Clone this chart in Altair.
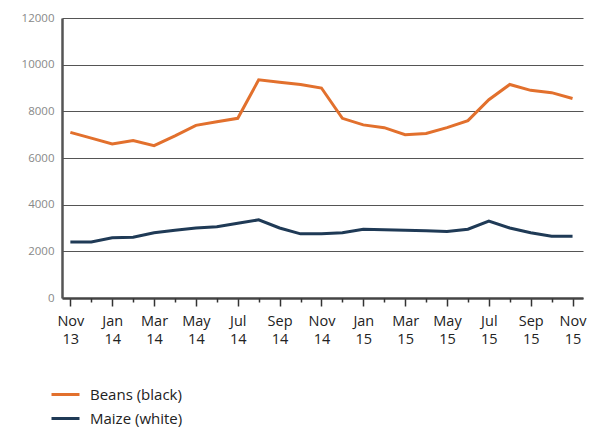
import altair as alt
import pandas as pd

months = list(range(25))
month_labels = ["Nov\n13", "", "Jan\n14", "", "Mar\n14", "", "May\n14", "", "Jul\n14", "",
                "Sep\n14", "", "Nov\n14", "", "Jan\n15", "", "Mar\n15", "", "May\n15", "",
                "Jul\n15", "", "Sep\n15", "", "Nov\n15"]
beans = [7100, 6850, 6600, 6750, 6530, 6950, 7400, 7550, 7700, 9350, 9250, 9150, 9000,
         7700, 7420, 7300, 7000, 7050, 7300, 7600, 8500, 9150, 8900, 8800, 8550]
maize = [2400, 2400, 2580, 2600, 2800, 2900, 3000, 3050, 3200, 3350, 3000, 2750, 2750,
         2800, 2950, 2920, 2900, 2880, 2850, 2950, 3300, 3000, 2800, 2650, 2650]
series = ["Beans (black)", "Maize (white)"]
colors = ["#E2702D", "#1F3A56"]
y_ticks = [0, 2000, 4000, 6000, 8000, 10000, 12000]

rows = []
for i in months:
    rows.append({"m": i, "v": beans[i], "s": series[0]})
    rows.append({"m": i, "v": maize[i], "s": series[1]})
df = pd.DataFrame(rows)

lab_arr = "[" + ",".join("'" + l.replace("\n", "|") + "'" for l in month_labels) + "]"
label_expr = f"split({lab_arr}[datum.value], '|')"

FONT = "Open Sans"

xscale = alt.Scale(domain=[-0.4, 24.5], nice=False, zero=False)
y_enc = alt.Y("v:Q", scale=alt.Scale(domain=[0, 12000], nice=False), title=None,
              axis=alt.Axis(values=y_ticks, tickSize=0,
                            labelFont=FONT, labelFontSize=11.5, labelColor="#888",
                            labelPadding=8, domainColor="#555", domainWidth=2.5,
                            gridColor="#555", gridWidth=1.2, format="d"))

base = alt.Chart(df)

lines = base.mark_line(strokeWidth=3).encode(
    x=alt.X("m:Q", scale=xscale, title=None,
            axis=alt.Axis(orient="bottom", values=months[::2], labelExpr=label_expr,
                          tickSize=8, tickColor="#333", tickWidth=1.5, domainColor="#444",
                          domainWidth=2.5, labelFont=FONT, labelFontSize=14.5,
                          labelColor="#222", labelPadding=8, grid=False,
                          labelLineHeight=18, labelFlush=False, labelOverlap=False)),
    y=y_enc,
    color=alt.Color("s:N", scale=alt.Scale(domain=series, range=colors), title=None,
                    legend=alt.Legend(orient="none", legendX=-12, legendY=361,
                                      symbolType="stroke", symbolStrokeWidth=3,
                                      symbolSize=784, labelFont=FONT, labelFontSize=15,
                                      labelColor="#222", rowPadding=-9, labelOffset=9)),
)

minor = base.mark_line(opacity=0).encode(
    x=alt.X("m:Q", scale=xscale, title=None,
            axis=alt.Axis(orient="bottom", values=months[1::2], labels=False, tickSize=4,
                          tickColor="#333", tickWidth=1.5, domain=False, grid=False)),
    y=y_enc,
    detail="s:N",
)

chart = alt.layer(lines, minor).resolve_axis(x="independent").properties(
    width=521, height=280,
    autosize=alt.AutoSizeParams(type="none"),
    padding={"left": 54, "top": 10, "right": 10, "bottom": 134},
    background="white",
).configure_view(stroke=None)

chart.save("out.html", embed_options={"renderer": "svg", "actions": False})
